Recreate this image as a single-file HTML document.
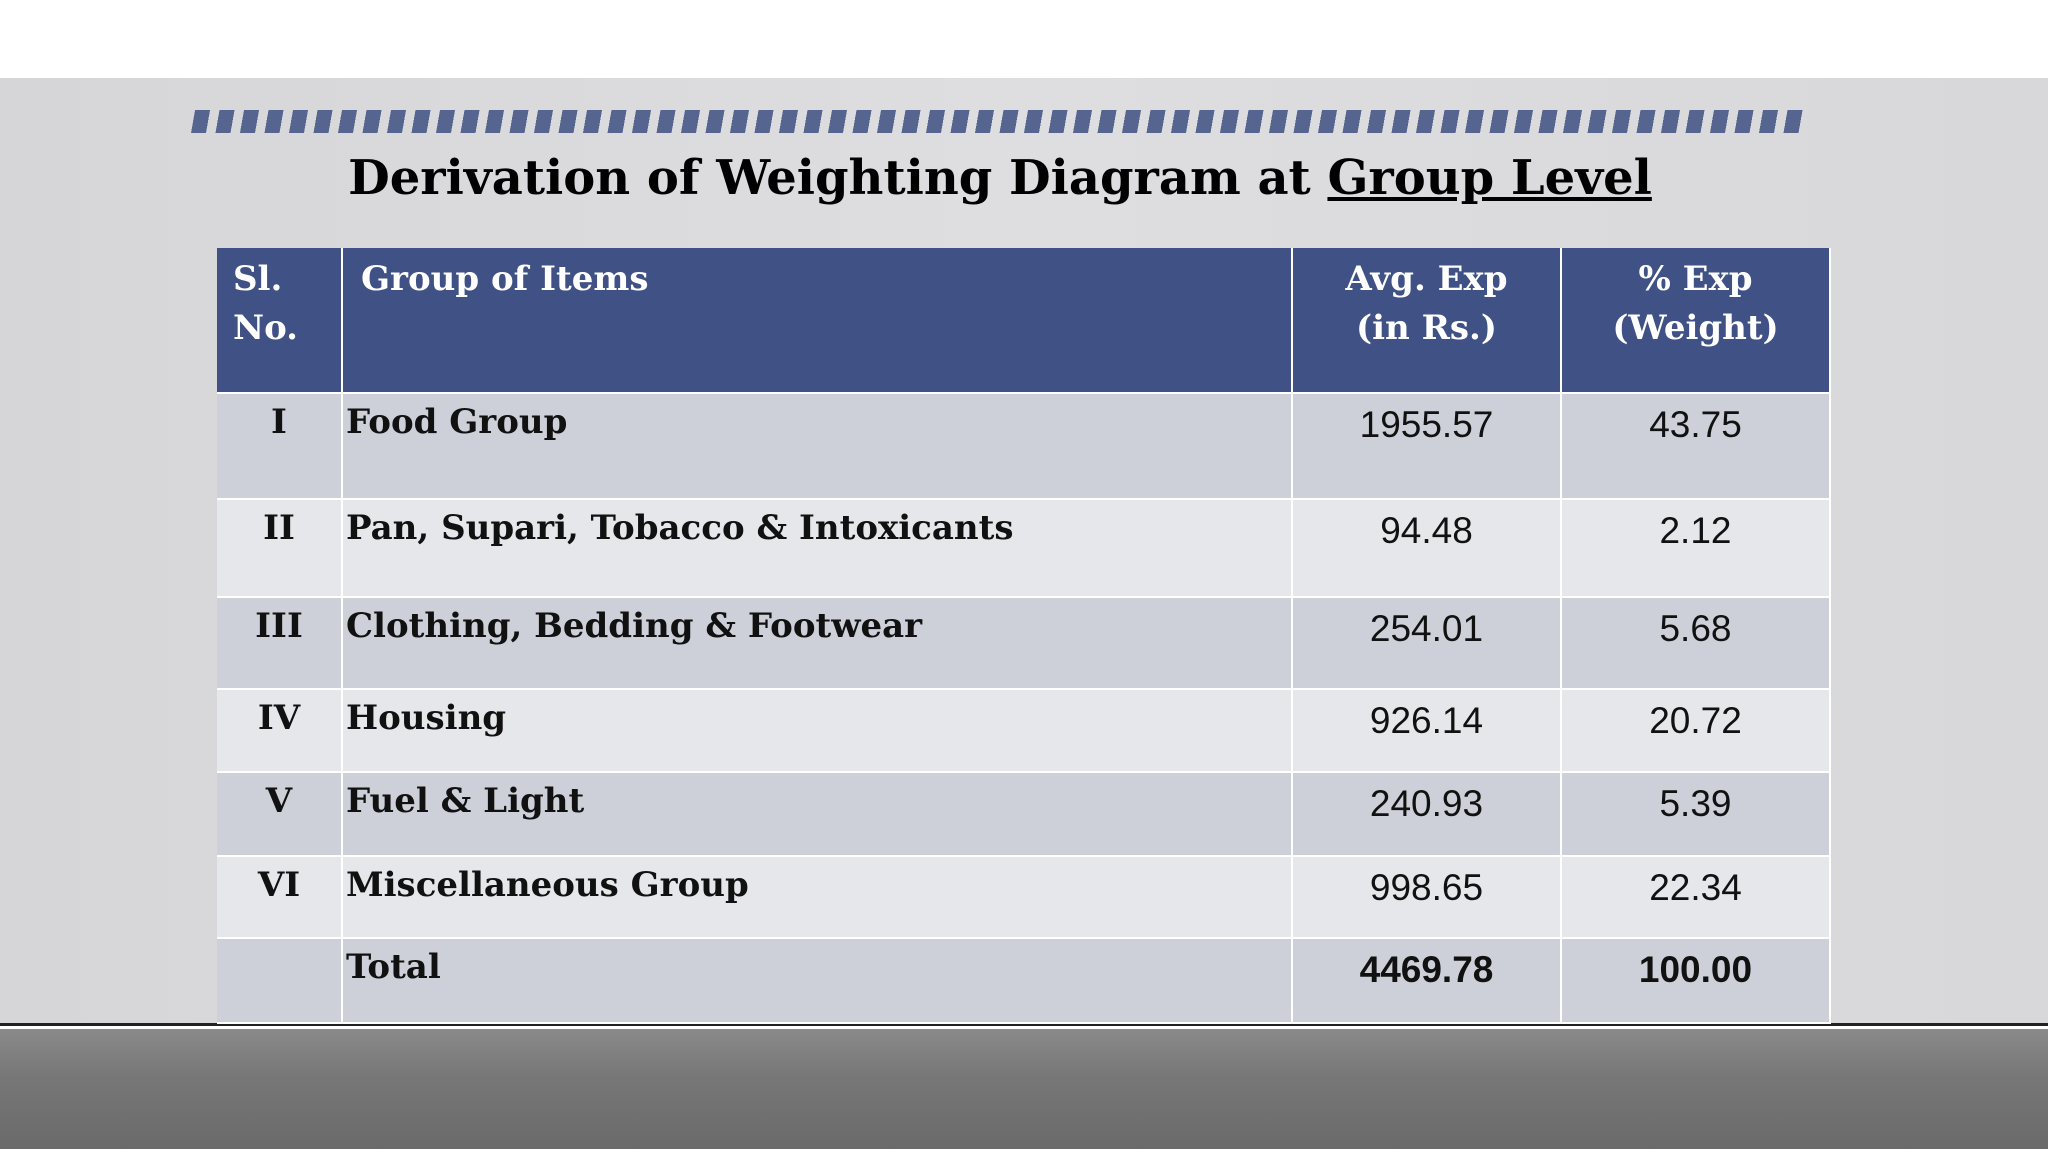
<!DOCTYPE html>
<html><head><meta charset="utf-8"><style>
body{margin:0;width:2048px;height:1152px;position:relative;overflow:hidden;background:#fff;font-family:"DejaVu Serif","Liberation Serif",serif}
.bg{position:absolute;left:0;top:78px;width:2048px;height:946px;background:linear-gradient(90deg,#d6d6d8,#dedee0 50%,#d8d8da)}
.stripe{position:absolute;left:193px;top:110px;width:1609px;height:23px;background:repeating-linear-gradient(90deg,#55658f 0 15px,transparent 15px 24.5px);transform:skewX(-10deg)}
.title{position:absolute;left:0;width:2000px;top:150px;text-align:center;font-weight:bold;font-size:48px;color:#000}
.cell{position:absolute;box-sizing:border-box;border-right:2px solid #fff;border-bottom:2px solid #fff;font-size:34px;font-weight:bold;color:#111}
.h{background:#3f5185;color:#fff}
.num{font-family:"Liberation Sans",sans-serif;font-weight:normal;text-align:center;font-size:37px}
.floor{position:absolute;left:0;top:1029px;width:2048px;height:120px;background:linear-gradient(180deg,#8a8a8a,#777 40%,#6a6a6a)}
.line{position:absolute;left:0;top:1023px;width:2048px;height:3px;background:#222}
</style></head><body>
<div class="bg"></div>
<div class="line"></div>
<div class="floor"></div>
<div class="stripe"></div>
<div class="title">Derivation of Weighting Diagram at <u>Group Level</u></div>
<div id="tbl"></div>
<script>
const cols=[217,343,1293,1562,1831];
const rowsY=[248,394,500,598,690,773,857,939,1024];
const sl=['I','II','III','IV','V','VI',''];
const groups=['Food Group','Pan, Supari, Tobacco &amp; Intoxicants','Clothing, Bedding &amp;  Footwear','Housing','Fuel &amp; Light','Miscellaneous  Group','Total'];
const exps=['1955.57','94.48','254.01','926.14','240.93','998.65','4469.78'];
const wts=['43.75','2.12','5.68','20.72','5.39','22.34','100.00'];
const tbl=document.getElementById('tbl');
function cell(c,r,html,cls,style){
  const d=document.createElement('div');
  d.className='cell '+cls;
  d.style.left=cols[c]+'px';d.style.width=(cols[c+1]-cols[c])+'px';
  d.style.top=rowsY[r]+'px';d.style.height=(rowsY[r+1]-rowsY[r])+'px';
  d.style.cssText+=style||'';
  d.innerHTML=html;
  tbl.appendChild(d);return d;
}
let h;
h=cell(0,0,'Sl.<br>No.','h','padding:7px 0 0 16px;line-height:49px');

h=cell(1,0,'Group  of Items','h','padding:7px 0 0 18px;line-height:49px');

h=cell(2,0,'Avg. Exp<br>(in Rs.)','h','padding:7px 0 0 0;line-height:49px;text-align:center');

h=cell(3,0,'% Exp<br>(Weight)','h','padding:7px 0 0 0;line-height:49px;text-align:center');

for(let i=0;i<7;i++){
  const bg=i%2===0?'#cdd0d8':'#e6e7ea';
  const st='background:'+bg+';padding-top:5px;line-height:46px;';
  const bold=i===6?'font-weight:bold;':'';
  let a=cell(0,i+1,sl[i],'',st+'text-align:center');
  
  a=cell(1,i+1,groups[i],'',st+'padding-left:3px');
  
  a=cell(2,i+1,exps[i],'num',st+'padding-top:8px;'+bold);
  
  a=cell(3,i+1,wts[i],'num',st+'padding-top:8px;'+bold);
  
}
</script>
</body></html>
